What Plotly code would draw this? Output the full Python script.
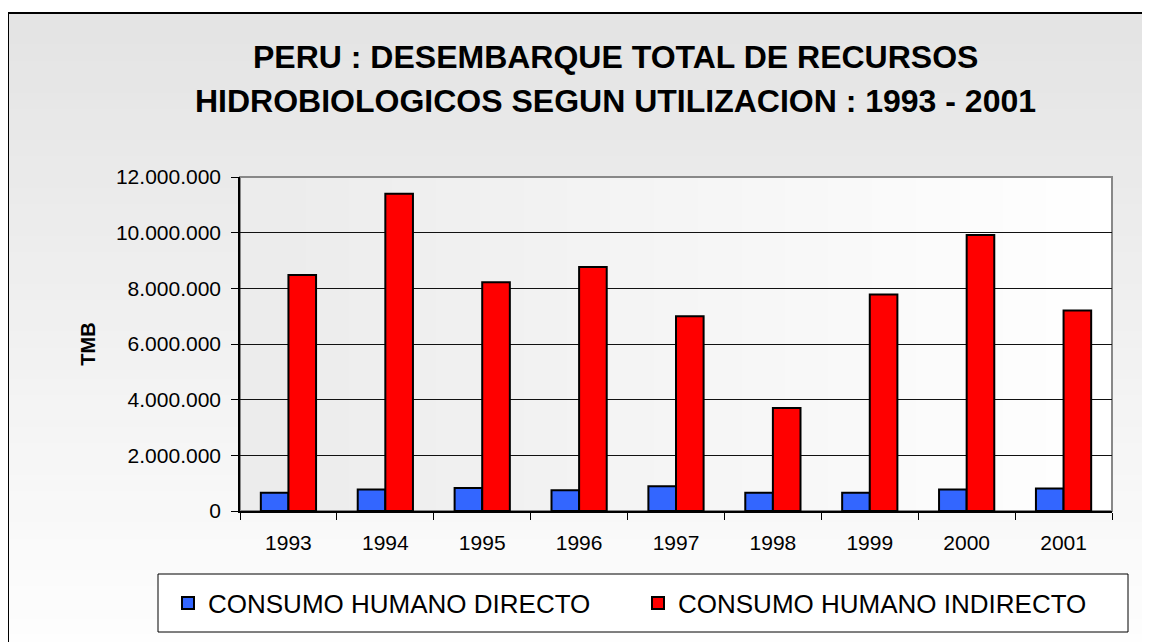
import plotly.graph_objects as go

years = ["1993", "1994", "1995", "1996", "1997", "1998", "1999", "2000", "2001"]
directo = [660000, 768000, 828000, 744000, 888000, 660000, 660000, 768000, 804000]
indirecto = [8480000, 11400000, 8220000, 8770000, 7000000, 3700000, 7780000, 9920000, 7200000]
y_ticks = [0, 2000000, 4000000, 6000000, 8000000, 10000000, 12000000]

W, H = 1150, 642
OFF = 8  # page body margin
L, R, T, B = 232, 1104, 169, 503
pw, ph = R - L, B - T

def px(xs):
    return (xs - OFF - L) / pw

def py(ys):
    return (B - (ys - OFF)) / ph

FONT = "Liberation Sans, Arial, sans-serif"

fig = go.Figure()
fig.add_trace(go.Bar(x=years, y=directo, name="CONSUMO HUMANO DIRECTO",
                     marker=dict(color="#3366FF", line=dict(color="black", width=2))))
fig.add_trace(go.Bar(x=years, y=indirecto, name="CONSUMO HUMANO INDIRECTO",
                     marker=dict(color="#FF0000", line=dict(color="black", width=2))))

shapes = []
n = 40
y_top, y_bot = 13, H + OFF
for i in range(n):
    a = y_top + (y_bot - y_top) * i / n
    b = y_top + (y_bot - y_top) * (i + 1) / n + 1
    c = int(228 + (254 - 228) * i / (n - 1))
    shapes.append(dict(type="rect", xref="paper", yref="paper", x0=px(8), x1=px(W + 20),
                       y0=py(a), y1=py(b), fillcolor=f"rgb({c},{c},{c})", line=dict(width=0),
                       layer="below"))
for i in range(n):
    a = i / n
    b = min((i + 1) / n + 0.002, 1)
    c = int(236 + (255 - 236) * i / (n - 1))
    shapes.append(dict(type="rect", xref="paper", yref="paper", x0=a, x1=b,
                       y0=0, y1=1, fillcolor=f"rgb({c},{c},{c})", line=dict(width=0),
                       layer="below"))
shapes.append(dict(type="rect", xref="paper", yref="paper", x0=0, x1=1, y0=0, y1=1,
                   line=dict(color="#888888", width=2), fillcolor="rgba(0,0,0,0)", layer="below"))
shapes.append(dict(type="line", xref="paper", yref="paper", x0=px(8), x1=px(W + 30),
                   y0=py(13), y1=py(13), line=dict(color="black", width=2), layer="below"))
shapes.append(dict(type="line", xref="paper", yref="paper", x0=px(8), x1=px(8),
                   y0=py(13), y1=py(H + 30), line=dict(color="black", width=2), layer="below"))
shapes.append(dict(type="rect", xref="paper", yref="paper", x0=px(158), x1=px(1128),
                   y0=py(574), y1=py(632), line=dict(color="black", width=1),
                   fillcolor="white", layer="below"))

annotations = [
    dict(text="<b>PERU : DESEMBARQUE TOTAL DE RECURSOS</b>", xref="paper", yref="paper",
         x=px(615), y=py(57), xanchor="center", yanchor="middle", showarrow=False,
         font=dict(family=FONT, size=32, color="black")),
    dict(text="<b>HIDROBIOLOGICOS SEGUN UTILIZACION : 1993 - 2001</b>", xref="paper", yref="paper",
         x=px(615), y=py(101), xanchor="center", yanchor="middle", showarrow=False,
         font=dict(family=FONT, size=32, color="black")),
]

fig.update_layout(
    width=W, height=H,
    margin=dict(l=L, r=W - R, t=T, b=H - B, pad=0),
    paper_bgcolor="white",
    plot_bgcolor="rgba(0,0,0,0)",
    separators=",.",
    barmode="group",
    bargap=0.43,
    bargroupgap=0,
    shapes=shapes,
    annotations=annotations,
    font=dict(family=FONT, size=21, color="black"),
    showlegend=True,
    legend=dict(orientation="h", x=px(168), xanchor="left", y=py(603), yanchor="middle",
                bgcolor="rgba(0,0,0,0)", borderwidth=0,
                font=dict(family=FONT, size=26, color="black"),
                entrywidth=425, entrywidthmode="pixels", traceorder="normal"),
    xaxis=dict(showline=True, linecolor="black", linewidth=1.5, ticks="outside",
               tickson="boundaries", ticklen=7, tickcolor="black", showgrid=False,
               tickfont=dict(family=FONT, size=21), ticklabelstandoff=12),
    yaxis=dict(range=[0, 12000000], tickvals=y_ticks, tickformat=",d",
               showline=True, linecolor="black", linewidth=1.5, ticks="outside", ticklen=7,
               tickcolor="black", showgrid=True, gridcolor="#111111", gridwidth=1,
               zeroline=False, tickfont=dict(family=FONT, size=21), ticklabelstandoff=6,
               title=dict(text="<b>TMB</b>", font=dict(family=FONT, size=20), standoff=15)),
)

fig.write_html("out.html")
